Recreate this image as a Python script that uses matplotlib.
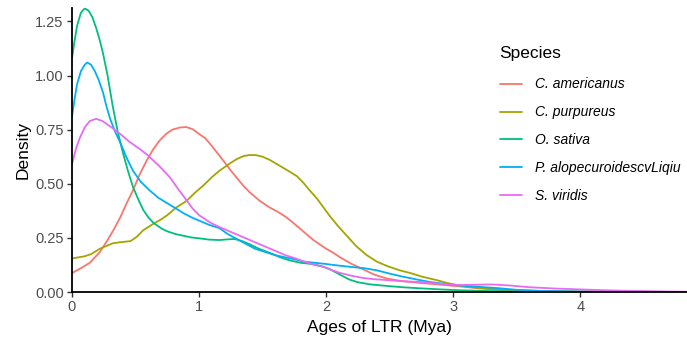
import matplotlib
matplotlib.use("Agg")
from matplotlib import pyplot as plt

# Density curves (x = age in Mya, y = density)
species = ["C. americanus", "C. purpureus", "O. sativa",
           "P. alopecuroidescvLiqiu", "S. viridis"]
colors = ["#F8766D", "#A3A500", "#00BF7D", "#00B0F6", "#E76BF3"]

am_x = [0, 0.07, 0.14, 0.22, 0.28, 0.33, 0.38, 0.43, 0.48, 0.53, 0.59, 0.64, 0.69, 0.74,
        0.79, 0.85, 0.9, 0.95, 1.0, 1.05, 1.1, 1.16, 1.2, 1.245, 1.3, 1.35, 1.4, 1.48,
        1.557, 1.62, 1.675, 1.73, 1.79, 1.85, 1.9, 1.95, 2.0, 2.06, 2.11, 2.2, 2.29,
        2.38, 2.48, 2.6, 2.74, 2.9, 3.05, 3.2, 3.35, 3.5, 3.7, 4.0, 4.84]
am_y = [0.087, 0.11, 0.135, 0.185, 0.24, 0.29, 0.345, 0.41, 0.47, 0.54, 0.61, 0.66, 0.70,
        0.73, 0.75, 0.76, 0.762, 0.752, 0.73, 0.71, 0.675, 0.63, 0.60, 0.565, 0.525,
        0.49, 0.46, 0.42, 0.39, 0.37, 0.35, 0.325, 0.295, 0.265, 0.24, 0.22, 0.20, 0.18,
        0.16, 0.13, 0.105, 0.08, 0.062, 0.05, 0.042, 0.034, 0.026, 0.017, 0.01, 0.006,
        0.003, 0.001, 0.0]

pu_x = [0, 0.05, 0.1, 0.15, 0.22, 0.28, 0.32, 0.38, 0.46, 0.51, 0.56, 0.64, 0.7, 0.75,
        0.82, 0.9, 0.97, 1.03, 1.1, 1.16, 1.245, 1.3, 1.35, 1.4, 1.45, 1.5, 1.557, 1.63,
        1.715, 1.77, 1.82, 1.87, 1.93, 1.98, 2.03, 2.1, 2.17, 2.24, 2.32, 2.4, 2.48,
        2.58, 2.66, 2.76, 2.87, 2.95, 3.03, 3.15, 3.3, 3.5, 3.7, 4.0, 4.84]
pu_y = [0.155, 0.16, 0.165, 0.175, 0.2, 0.215, 0.225, 0.23, 0.235, 0.255, 0.285, 0.315,
        0.335, 0.355, 0.39, 0.42, 0.46, 0.49, 0.53, 0.56, 0.595, 0.615, 0.628, 0.633,
        0.632, 0.625, 0.61, 0.585, 0.555, 0.535, 0.505, 0.47, 0.43, 0.39, 0.35, 0.30,
        0.255, 0.21, 0.17, 0.14, 0.12, 0.10, 0.088, 0.07, 0.055, 0.042, 0.032, 0.022,
        0.015, 0.008, 0.004, 0.002, 0.0]

sa_x = [0, 0.02, 0.04, 0.07, 0.1, 0.13, 0.16, 0.19, 0.22, 0.245, 0.28, 0.32, 0.36, 0.40,
        0.44, 0.48, 0.52, 0.56, 0.6, 0.64, 0.7, 0.75, 0.82, 0.875, 0.94, 1.0, 1.08,
        1.16, 1.22, 1.28, 1.34, 1.4, 1.47, 1.56, 1.64, 1.72, 1.8, 1.88, 1.96, 2.03,
        2.11, 2.18, 2.25, 2.35, 2.48, 2.6, 2.74, 2.9, 3.05, 3.3, 3.6, 4.0, 4.84]
sa_y = [1.08, 1.16, 1.23, 1.29, 1.31, 1.30, 1.27, 1.22, 1.16, 1.10, 1.0, 0.86, 0.74,
        0.645, 0.56, 0.485, 0.43, 0.38, 0.345, 0.32, 0.295, 0.28, 0.267, 0.26, 0.252,
        0.248, 0.242, 0.24, 0.243, 0.245, 0.235, 0.22, 0.20, 0.18, 0.16, 0.145, 0.135,
        0.13, 0.12, 0.105, 0.08, 0.058, 0.045, 0.035, 0.028, 0.022, 0.017, 0.012,
        0.008, 0.004, 0.002, 0.001, 0.0]

al_x = [0, 0.02, 0.04, 0.07, 0.1, 0.12, 0.15, 0.18, 0.21, 0.245, 0.27, 0.3, 0.34, 0.38,
        0.43, 0.48, 0.54, 0.61, 0.68, 0.75, 0.82, 0.875, 0.94, 1.0, 1.08, 1.16, 1.22,
        1.28, 1.36, 1.44, 1.52, 1.6, 1.68, 1.76, 1.83, 1.91, 1.99, 2.1, 2.21, 2.3, 2.4,
        2.5, 2.61, 2.72, 2.82, 2.94, 3.05, 3.2, 3.35, 3.5, 3.7, 4.0, 4.84]
al_y = [0.81, 0.89, 0.96, 1.02, 1.05, 1.06, 1.05, 1.02, 0.98, 0.92, 0.86, 0.80, 0.74,
        0.69, 0.62, 0.56, 0.51, 0.47, 0.435, 0.41, 0.385, 0.365, 0.345, 0.33, 0.31,
        0.295, 0.27, 0.25, 0.225, 0.20, 0.185, 0.17, 0.16, 0.15, 0.14, 0.135, 0.13,
        0.122, 0.115, 0.11, 0.10, 0.085, 0.07, 0.057, 0.046, 0.037, 0.03, 0.024, 0.018,
        0.01, 0.005, 0.002, 0.0]

vi_x = [0, 0.03, 0.06, 0.1, 0.14, 0.19, 0.24, 0.3, 0.38, 0.45, 0.535, 0.6, 0.69, 0.77,
        0.83, 0.9, 0.95, 1.0, 1.09, 1.16, 1.22, 1.28, 1.36, 1.44, 1.52, 1.6, 1.68, 1.76,
        1.83, 1.91, 1.99, 2.05, 2.11, 2.2, 2.29, 2.38, 2.48, 2.6, 2.74, 2.9, 3.05, 3.2,
        3.3, 3.45, 3.6, 3.8, 4.0, 4.2, 4.4, 4.6, 4.84]
vi_y = [0.59, 0.66, 0.71, 0.76, 0.79, 0.80, 0.79, 0.765, 0.73, 0.695, 0.66, 0.63, 0.58,
        0.53, 0.48, 0.425, 0.385, 0.355, 0.32, 0.30, 0.285, 0.27, 0.25, 0.23, 0.21,
        0.19, 0.17, 0.155, 0.14, 0.125, 0.115, 0.10, 0.088, 0.075, 0.065, 0.059, 0.055,
        0.05, 0.046, 0.038, 0.032, 0.034, 0.035, 0.03, 0.022, 0.016, 0.012, 0.008,
        0.005, 0.003, 0.001]

xs = [am_x, pu_x, sa_x, al_x, vi_x]
ys = [am_y, pu_y, sa_y, al_y, vi_y]

plt.rcParams["font.family"] = ["Liberation Sans", "DejaVu Sans"]

fig = plt.figure(figsize=(6.87, 3.38), dpi=100)
ax = fig.add_axes([72 / 687, 1 - 292 / 338, 1 - 72 / 687, (292 - 8) / 338])

for x, y, c, name in zip(xs, ys, colors, species):
    ax.plot(x, y, color=c, lw=1.3, label=name, solid_joinstyle="round",
            solid_capstyle="round")

ax.set_xlim(0, 4.84)
ax.set_ylim(0, 1.312)
ax.set_xticks([0, 1, 2, 3, 4])
ax.set_yticks([0, 0.25, 0.5, 0.75, 1.0, 1.25])
ax.set_yticklabels(["0.00", "0.25", "0.50", "0.75", "1.00", "1.25"])

for side in ["top", "right"]:
    ax.spines[side].set_visible(False)
for side in ["left", "bottom"]:
    ax.spines[side].set_linewidth(1.3)
    ax.spines[side].set_color("black")
ax.tick_params(length=3.5, width=1.0, color="#333333", labelcolor="#4D4D4D",
               labelsize=10.5, pad=2.5)

ax.set_xlabel("Ages of LTR (Mya)", fontsize=12.5, labelpad=4)
ax.set_ylabel("Density", fontsize=12.5, labelpad=3)

leg = ax.legend(loc="upper left", bbox_to_anchor=(494 / 687, 1 - 40 / 338),
                bbox_transform=fig.transFigure, frameon=False, title="Species",
                title_fontsize=12.5, prop={"size": 10, "style": "italic"},
                handlelength=1.6, handletextpad=0.95, labelspacing=1.0,
                borderaxespad=0)
leg._legend_box.align = "left"
# a bit more room between the title and the first entry, as in ggplot
leg._legend_box.sep += 2.2

fig.savefig("out.png", dpi=100)
